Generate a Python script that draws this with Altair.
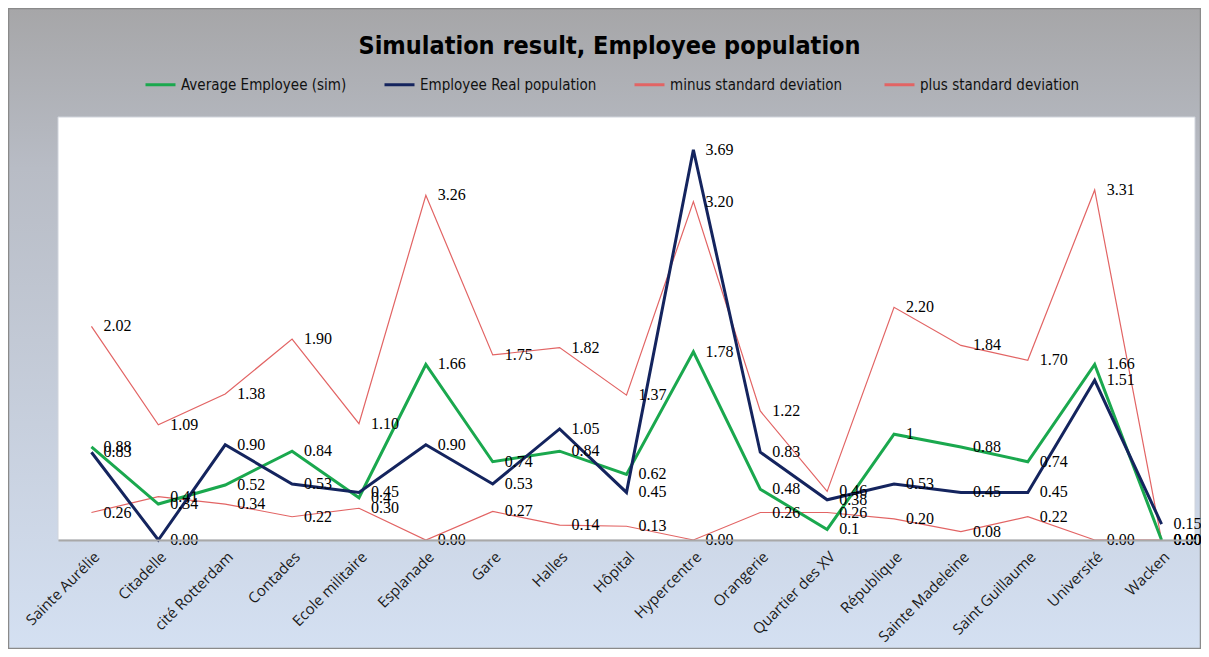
import altair as alt
import pandas as pd

categories = ["Sainte Aurélie", "Citadelle", "cité Rotterdam", "Contades", "Ecole militaire",
              "Esplanade", "Gare", "Halles", "Hôpital", "Hypercentre", "Orangerie",
              "Quartier des XV", "République", "Sainte Madeleine", "Saint Guillaume",
              "Université", "Wacken"]
series_names = ["Average Employee (sim)", "Employee Real population",
                "minus  standard deviation", "plus standard deviation"]
avg_sim = [0.88, 0.34, 0.52, 0.84, 0.4, 1.66, 0.74, 0.84, 0.62, 1.78, 0.48, 0.1, 1, 0.88, 0.74, 1.66, 0.00]
avg_labels = ["0.88", "0.34", "0.52", "0.84", "0.4", "1.66", "0.74", "0.84", "0.62", "1.78", "0.48",
              "0.1", "1", "0.88", "0.74", "1.66", "0.00"]
real_pop = [0.83, 0.00, 0.90, 0.53, 0.45, 0.90, 0.53, 1.05, 0.45, 3.69, 0.83, 0.38, 0.53, 0.45, 0.45, 1.51, 0.15]
minus_sd = [0.26, 0.41, 0.34, 0.22, 0.30, 0.00, 0.27, 0.14, 0.13, 0.00, 0.26, 0.26, 0.20, 0.08, 0.22, 0.00, 0.00]
plus_sd = [2.02, 1.09, 1.38, 1.90, 1.10, 3.26, 1.75, 1.82, 1.37, 3.20, 1.22, 0.46, 2.20, 1.84, 1.70, 3.31, 0.00]
colors = ["#1aa84e", "#14245e", "#e26464", "#e26464"]

rows = []
for vals, labs, name in [(avg_sim, avg_labels, series_names[0]),
                         (real_pop, None, series_names[1]),
                         (minus_sd, None, series_names[2]),
                         (plus_sd, None, series_names[3])]:
    for i, (c, v) in enumerate(zip(categories, vals)):
        rows.append({"category": c, "series": name, "value": v,
                     "label": labs[i] if labs else f"{v:.2f}"})
df = pd.DataFrame(rows)

W, H = 1137, 423
PL, PT, PR, PB = 50, 109, 6, 109
NARROW = "DejaVu Sans Condensed, Liberation Sans Narrow, Roboto, sans-serif"
SERIF = "Liberation Serif, DejaVu Serif, serif"

xenc = alt.X("category:N", sort=categories,
             scale=alt.Scale(domain=categories, padding=0.5),
             axis=alt.Axis(title=None, labelAngle=315, labelAlign="right", labelBaseline="top",
                           labelFont="Open Sans", labelFontSize=15,
                           labelColor="#1a1a1a", ticks=False, domainColor="#a8a8a8",
                           domainWidth=2, labelPadding=9, labelOverlap=False, zindex=2))
yenc = alt.Y("value:Q", scale=alt.Scale(domain=[0, 4], nice=False, zero=True), axis=None)
cenc = alt.Color("series:N", sort=series_names,
                 scale=alt.Scale(domain=series_names, range=colors),
                 legend=alt.Legend(title=None, orient="none", direction="horizontal",
                                   columns=4, legendX=86, legendY=-49,
                                   symbolType="stroke", symbolStrokeWidth=3, symbolSize=900,
                                   labelFont=NARROW, labelFontSize=15, labelColor="#111",
                                   labelOffset=4, columnPadding=31, labelLimit=400))

gradient = alt.LinearGradient(gradient="linear", x1=0, y1=0, x2=0, y2=1,
                              stops=[alt.GradientStop(color="#a6a6a8", offset=0),
                                     alt.GradientStop(color="#b8bcc5", offset=0.25),
                                     alt.GradientStop(color="#d4e0f2", offset=1)])
one = pd.DataFrame({"a": [0]})
bg = alt.Chart(one).mark_rect(fill=gradient, stroke="#8a8a8a", strokeWidth=1.5, clip=False).encode(
    x=alt.value(-PL + 0.5), x2=alt.value(W + PR - 0.5),
    y=alt.value(-PT + 0.5), y2=alt.value(H + PB - 0.5))
plotbg = alt.Chart(one).mark_rect(fill="white", stroke="#d0d4dc", strokeWidth=1).encode(
    x=alt.value(0), x2=alt.value(W), y=alt.value(0), y2=alt.value(H))

thin = alt.Chart(df).transform_filter(
    alt.FieldOneOfPredicate(field="series", oneOf=series_names[2:])
).mark_line(strokeWidth=1.2).encode(x=xenc, y=yenc, color=cenc, detail="series:N")
thick = alt.Chart(df).transform_filter(
    alt.FieldOneOfPredicate(field="series", oneOf=series_names[:2])
).mark_line(strokeWidth=3).encode(x=xenc, y=yenc, color=cenc, detail="series:N")

texts = alt.Chart(df).mark_text(align="left", baseline="middle", dx=12, font=SERIF,
                                fontSize=16, color="#000").encode(
    x=xenc, y=yenc, text="label:N")

chart = alt.layer(bg, plotbg, thin, thick, texts).properties(
    width=W, height=H,
    title=alt.TitleParams("Simulation result, Employee population", font=NARROW, fontSize=25,
                          fontWeight="bold", color="#000", anchor="middle", frame="group",
                          dx=-17, offset=-51),
    autosize=alt.AutoSizeParams(type="none"),
    padding={"left": PL, "top": PT, "right": PR, "bottom": PB},
).configure_view(stroke=None).configure(background="white")

chart.save("out.html", embed_options={"renderer": "svg", "actions": False})
